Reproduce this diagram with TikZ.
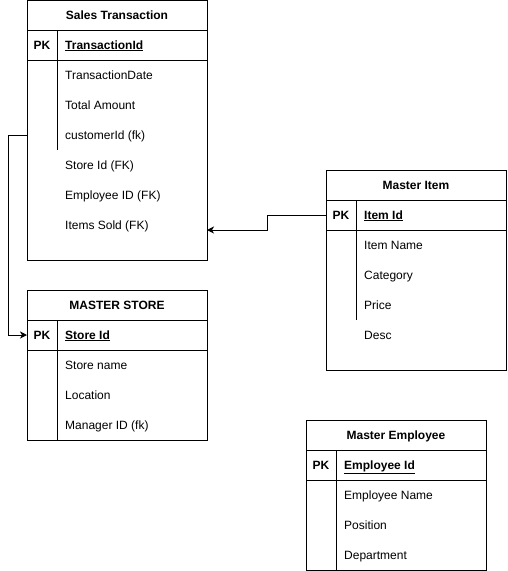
\documentclass[tikz,border=0pt]{standalone}
\usepackage{fontspec}
\setmainfont{Liberation Sans}
\usetikzlibrary{arrows.meta,calc}
\begin{document}
\begin{tikzpicture}[x=1pt,y=-1pt,
  every node/.style={font=\fontsize{12pt}{14pt}\selectfont},
  tbl/.style={draw,line width=1pt,minimum width=180pt,inner sep=0pt,anchor=north west},
  ttl/.style={font=\fontsize{12pt}{14pt}\selectfont\bfseries,inner sep=0pt,text height=10.8pt,text depth=2.6pt},
  pk/.style={font=\fontsize{12pt}{14pt}\selectfont\bfseries,inner sep=0pt,text height=10.8pt,text depth=2.6pt},
  field/.style={anchor=west,inner sep=0pt,text height=10.8pt,text depth=2.6pt},
  sep/.style={line width=1pt},
  conn/.style={line width=1pt,-{Stealth[length=7pt,width=7pt,inset=2pt]}}
]
\useasboundingbox (0,0) rectangle (507,571);

% Sales Transaction
\node[tbl,minimum height=260pt] (st) at (27,0) {};
\node[ttl] (sttitle) at (117,15) {Sales Transaction};
\draw[sep] (27,30) -- (207,30);
\draw[sep] (27,60) -- (207,60);
\draw[sep] (57,30) -- (57,150);
\node[pk] (stpkl) at (42,45) {PK};
\node[field] (stpk) at (65,45) {\textbf{\underline{TransactionId}}};
\node[field] (stdate) at (65,75) {TransactionDate};
\node[field] (sttot) at (65,105) {Total Amount};
\node[field] (stcust) at (65,135) {customerId (fk)};
\node[field] (ststore) at (65,165) {Store Id (FK)};
\node[field] (stemp) at (65,195) {Employee ID (FK)};
\node[field] (stitems) at (65,225) {Items Sold (FK)};
\coordinate (stin) at (207,230);

% MASTER STORE
\node[tbl,minimum height=150pt] (ms) at (27,290) {};
\node[ttl] (mstitle) at (117,305) {MASTER STORE};
\draw[sep] (27,320) -- (207,320);
\draw[sep] (27,350) -- (207,350);
\draw[sep] (57,320) -- (57,440);
\node[pk] (mspkl) at (42,335) {PK};
\node[field] (mspk) at (65,335) {\textbf{\underline{Store Id}}};
\node[field] (msname) at (65,365) {Store name};
\node[field] (msloc) at (65,395) {Location};
\node[field] (msman) at (65,425) {Manager ID (fk)};

% Master Item
\node[tbl,minimum height=200pt] (mi) at (326,170) {};
\node[ttl] (mititle) at (416,185) {Master Item};
\draw[sep] (326,200) -- (506,200);
\draw[sep] (326,230) -- (506,230);
\draw[sep] (356,200) -- (356,320);
\node[pk] (mipkl) at (341,215) {PK};
\node[field] (mipk) at (364,215) {\textbf{\underline{Item Id}}};
\node[field] (miname) at (364,245) {Item Name};
\node[field] (micat) at (364,275) {Category};
\node[field] (miprice) at (364,305) {Price};
\node[field] (midesc) at (364,335) {Desc};

% Master Employee
\node[tbl,minimum height=150pt] (me) at (306,420) {};
\node[ttl] (metitle) at (396,435) {Master Employee};
\draw[sep] (306,450) -- (486,450);
\draw[sep] (306,480) -- (486,480);
\draw[sep] (336,450) -- (336,570);
\node[pk] (mepkl) at (321,465) {PK};
\node[field] (mepk) at (344,465) {\textbf{\underline{Employee Id}}};
\node[field] (mename) at (344,495) {Employee Name};
\node[field] (mepos) at (344,525) {Position};
\node[field] (medep) at (344,555) {Department};

% connectors
\draw[conn] (st.west |- stcust) -- ++(-19,0) |- (ms.west |- mspk);
\draw[conn] (mi.west |- mipk) -- ++(-59,0) |- (stin);
\end{tikzpicture}
\end{document}
